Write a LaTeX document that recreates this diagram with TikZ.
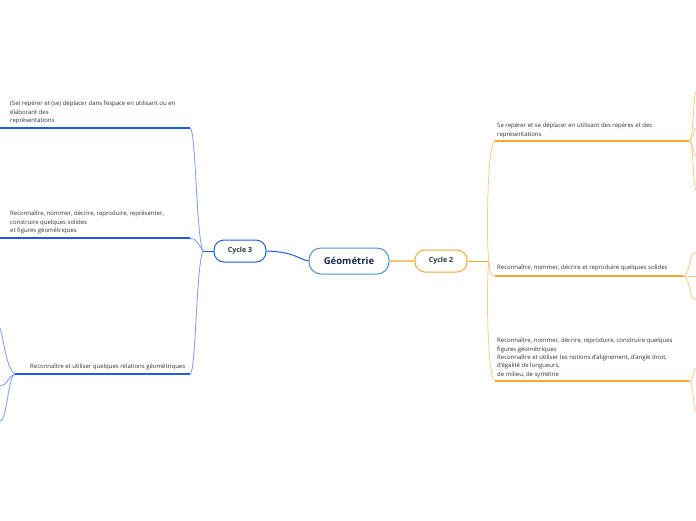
\documentclass[tikz,border=0pt]{standalone}
\usepackage{fontspec}
\setmainfont{Open Sans}
\usetikzlibrary{positioning}

\definecolor{azul}{HTML}{1F5BE6}
\definecolor{azulclaro}{HTML}{7A9AF4}
\definecolor{naranja}{HTML}{F7A833}
\definecolor{naranjaclaro}{HTML}{FAC987}
\definecolor{centro}{HTML}{4A93D6}
\definecolor{texto}{HTML}{2E2E2E}
\definecolor{tinta}{HTML}{1B3A3A}
\definecolor{marino}{HTML}{14284B}

\tikzset{
  tema/.style={font=\fontsize{6}{8.3}\selectfont, text=texto, align=left, inner sep=0pt},
  ciclo/.style={draw, line width=1pt, rounded corners=10pt, fill=white, minimum width=52pt,
    minimum height=22pt, inner sep=0pt, font=\bfseries\fontsize{7}{8}\selectfont, text=tinta},
  raiz/.style={draw=centro, line width=1pt, rounded corners=12pt, fill=white, minimum width=80pt,
    minimum height=26pt, inner sep=0pt, font=\bfseries\fontsize{9.5}{11}\selectfont, text=marino},
  subazul/.style={azul, line width=1.5pt},
  ramaazul/.style={azulclaro, line width=0.8pt},
  subnaranja/.style={naranja, line width=1.5pt},
  ramanaranja/.style={naranjaclaro, line width=0.8pt}
}

\begin{document}
\begin{tikzpicture}[x=1pt,y=-1pt]
  \useasboundingbox (0,0) rectangle (696,520);

  % Nodos principales
  \node[raiz] (geo) at (349,261) {Géométrie};
  \node[ciclo, draw=azul] (c3) at (240,251) {Cycle 3};
  \node[ciclo, draw=naranja] (c2) at (441,261) {Cycle 2};

  % Textos de las ramas (Cycle 3)
  \node[tema, anchor=north west] (t31) at (10,101)
    {(Se) repérer et (se) déplacer dans l'espace en utilisant ou en\\élaborant des\\représentations};
  \node[tema, anchor=north west] (t32) at (10,211)
    {Reconnaître, nommer, décrire, reproduire, représenter,\\construire quelques solides\\et figures géométriques};
  \node[tema, anchor=west] (t33) at (30,367) {Reconnaître et utiliser quelques relations géométriques};

  % Textos de las ramas (Cycle 2)
  \node[tema, anchor=north west] (t21) at (497,123)
    {Se repérer et se déplacer en utilisant des repères et des\\représentations};
  \node[tema, anchor=west] (t22) at (497,268) {Reconnaître, nommer, décrire et reproduire quelques solides};
  \node[tema, anchor=north west] (t23) at (497,338)
    {Reconnaître, nommer, décrire, reproduire, construire quelques\\figures géométriques\\Reconnaître et utiliser les notions d'alignement, d'angle droit,\\d'égalité de longueurs,\\de milieu, de symétrie};

  % Puntos de ramificación
  \coordinate (j3) at (203,251);
  \coordinate (j2) at (489,261);
  \coordinate (a1) at (190,128);  \coordinate (e1) at (0,128);
  \coordinate (a2) at (190,238);  \coordinate (e2) at (0,238);
  \coordinate (a3) at (190,374);  \coordinate (e3) at (15,374);
  \coordinate (b1) at (495,141);  \coordinate (d1) at (689,141);
  \coordinate (b2) at (495,276);  \coordinate (d2) at (683,276);
  \coordinate (b3) at (495,381);  \coordinate (d3) at (689,381);

  % Conexiones centrales
  \draw[azul, line width=1pt] (c3.east) .. controls (295,252) and (298,259) .. (geo.west);
  \draw[naranja!70!white, line width=1.6pt] (geo.east) -- (c2.west);
  \draw[azul, line width=1pt] (c3.west) -- (j3);
  \draw[naranja, line width=1pt] (c2.east) -- (j2);

  % Ramas del Cycle 3
  \draw[ramaazul] (j3) .. controls (196,236) and (196,128) .. (a1);
  \draw[ramaazul] (j3) .. controls (199,246) and (197,238) .. (a2);
  \draw[ramaazul] (j3) .. controls (196,266) and (196,374) .. (a3);
  \draw[subazul] (a1) -- (e1);
  \draw[subazul] (a2) -- (e2);
  \draw[subazul] (a3) -- (e3);
  \draw[ramaazul] (e3) .. controls (6,368) and (4,340) .. (0,328);
  \foreach \y in {386,421}
    \draw[ramaazul] (e3) .. controls (8,376) and (7,\y) .. (0,\y);

  % Ramas del Cycle 2
  \draw[ramanaranja] (j2) .. controls (486,248) and (487,141) .. (b1);
  \draw[ramanaranja] (j2) .. controls (490,270) and (489,276) .. (b2);
  \draw[ramanaranja] (j2) .. controls (486,274) and (487,381) .. (b3);
  \draw[subnaranja] (b1) -- (d1);
  \draw[subnaranja] (b2) -- (d2);
  \draw[subnaranja] (b3) -- (d3);
  \foreach \y in {92,128,156,190}
    \draw[ramanaranja] (d1) .. controls (694,141) and (693,\y) .. (696,\y);
  \foreach \y in {252,276,300}
    \draw[ramanaranja] (d2) .. controls (690,276) and (689,\y) .. (696,\y);
  \foreach \y in {368,412}
    \draw[ramanaranja] (d3) .. controls (694,381) and (693,\y) .. (696,\y);
\end{tikzpicture}
\end{document}
